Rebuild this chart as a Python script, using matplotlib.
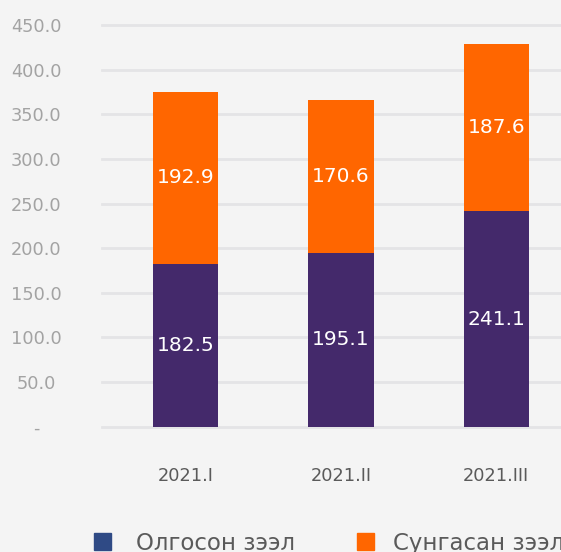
#!/usr/bin/env python3
"""Stacked bars: loans issued vs. extended, 2021 quarters."""

import matplotlib.pyplot as plt
from matplotlib.patches import Rectangle

quarters = ["2021.I", "2021.II", "2021.III"]
issued = [182.5, 195.1, 241.1]      # Олгосон зээл
extended = [192.9, 170.6, 187.6]    # Сунгасан зээл
series_names = ["Олгосон зээл", "Сунгасан зээл"]
y_ticks = [0, 50, 100, 150, 200, 250, 300, 350, 400, 450]

BG = "#f4f4f4"
PURPLE = "#44296b"
ORANGE = "#ff6600"
LEGEND_BLUE = "#2f4a85"
GRID = "#e4e4e6"
TICK_GRAY = "#a3a3a3"
TEXT_DARK = "#5a5a5a"

W, H = 561, 552
plt.rcParams["font.family"] = ["DejaVu Sans"]

fig = plt.figure(figsize=(W / 100, H / 100), dpi=100, facecolor=BG)
# axes spans x=102..580 px, y=426.7..25 px (runs past the right figure edge)
ax = fig.add_axes([102 / W, (H - 426.7) / H, 478 / W, 401.7 / H], facecolor=BG)

x = range(len(quarters))
bw = 0.42
ax.bar(x, issued, width=bw, color=PURPLE, zorder=3)
ax.bar(x, extended, width=bw, bottom=issued, color=ORANGE, zorder=3)

for i in x:
    ax.text(i, issued[i] / 2, f"{issued[i]:.1f}", ha="center", va="center",
            color="white", fontsize=14.5, zorder=4)
    ax.text(i, issued[i] + extended[i] / 2, f"{extended[i]:.1f}", ha="center",
            va="center", color="white", fontsize=14.5, zorder=4)

ax.set_xlim(-0.54, 2.54)
ax.set_ylim(0, 450)
ax.set_yticks(y_ticks)
ax.set_yticklabels(["-"] + [f"{v:.1f}" for v in y_ticks[1:]])
ax.set_xticks(list(x))
ax.set_xticklabels(quarters)

ax.yaxis.grid(True, color=GRID, linewidth=2.0, zorder=0)
ax.set_axisbelow(True)
for gl in ax.get_ygridlines():
    gl.set_clip_on(False)
for s in ax.spines.values():
    s.set_visible(False)

ax.tick_params(axis="y", length=0, pad=47.5, labelsize=12.8, labelcolor=TICK_GRAY)
for lab in ax.get_yticklabels():
    lab.set_horizontalalignment("center")
ax.tick_params(axis="x", length=0, pad=29, labelsize=12.8, labelcolor=TEXT_DARK)

# legend at the bottom, partly cut off like the source
legend_colors = [LEGEND_BLUE, ORANGE]
sq_x = [94, 357]
txt_x = [136, 393]
for name, col, sx, tx in zip(series_names, legend_colors, sq_x, txt_x):
    fig.patches.append(Rectangle((sx / W, (H - 550) / H), 17 / W, 17 / H,
                                 transform=fig.transFigure, color=col))
    fig.text(tx / W, (H - 550) / H, name, ha="left", va="baseline",
             fontsize=16.5, color=TEXT_DARK)

fig.savefig("out.png", dpi=100, facecolor=BG)
